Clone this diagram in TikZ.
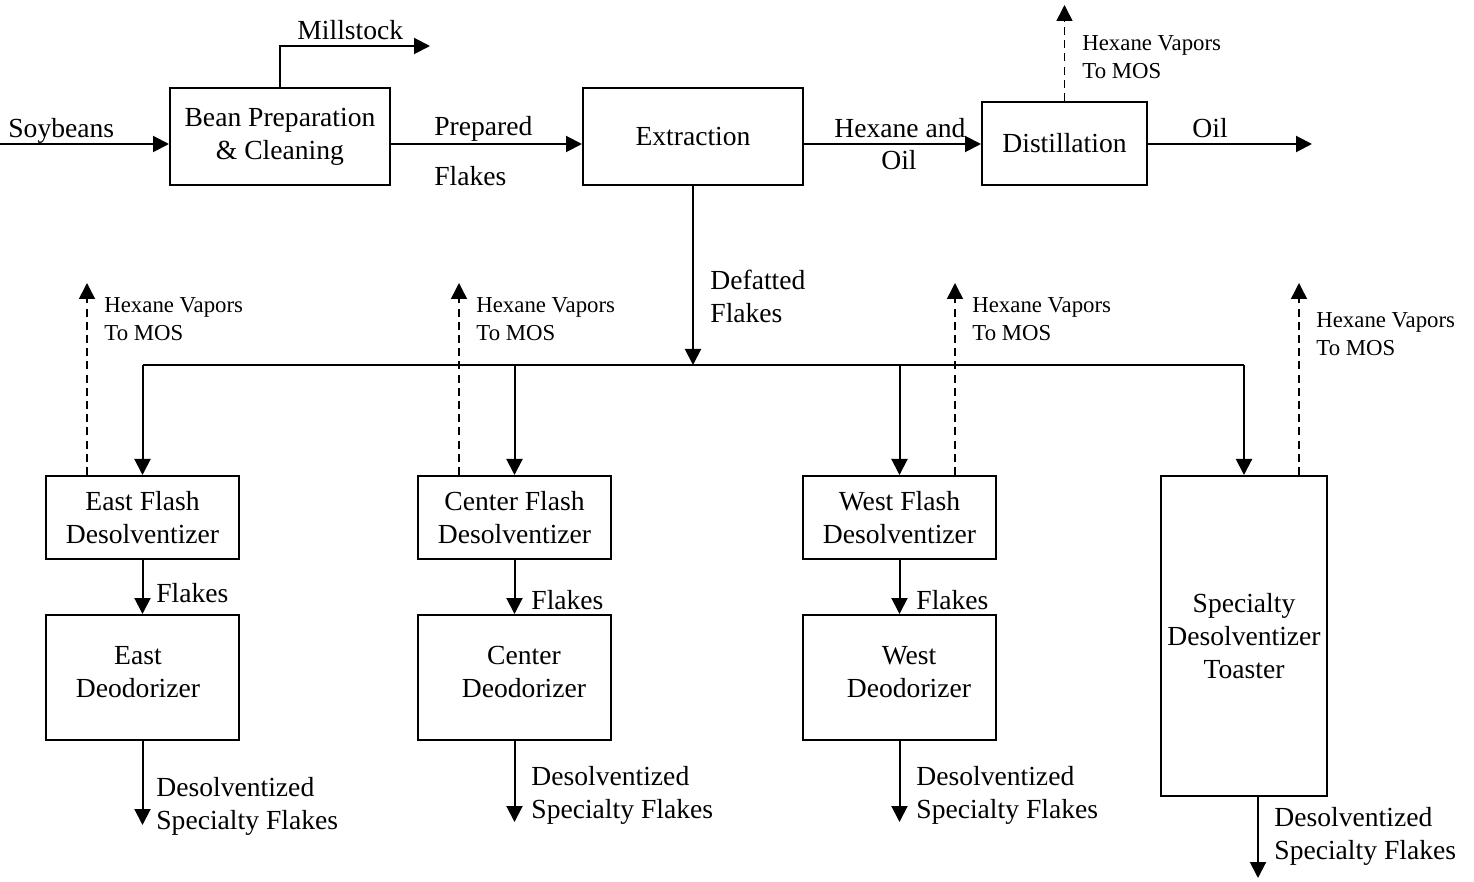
\documentclass[tikz,border=0pt]{standalone}
\usepackage{fontspec}
\setmainfont{Liberation Serif}
\usetikzlibrary{arrows.meta,calc}
\newcommand{\mainsz}{\fontsize{13.8}{16.5}\selectfont}
\newcommand{\smallsz}{\fontsize{11.4}{14}\selectfont}
\newcommand{\twol}[2]{\begin{tabular}[t]{@{}l@{}}#1\\#2\end{tabular}}
\begin{document}
\begin{tikzpicture}[x=0.5pt,y=-0.5pt,
  box/.style={draw,line width=1pt,inner sep=0pt,align=center,font=\mainsz},
  arr/.style={line width=1pt,-{Triangle[length=8pt,width=8pt]}},
  darr/.style={line width=0.75pt,dash pattern=on 4pt off 2.6pt,-{Triangle[length=8pt,width=8pt]}},
  lbl/.style={inner sep=0pt,anchor=base west,font=\mainsz},
  slbl/.style={inner sep=0pt,anchor=base west,font=\smallsz}]
\useasboundingbox (0,0) rectangle (1474,882);
% boxes
\node[box,minimum width=110pt,minimum height=48.5pt] (bean) at (280,136.5) {Bean Preparation\\\& Cleaning};
\node[box,minimum width=110pt,minimum height=48.5pt] (extr) at (693,136.5) {Extraction};
\node[box,minimum width=82.5pt,minimum height=41.5pt] (dist) at (1064.5,143.5) {Distillation};
\node[box,minimum width=96.5pt,minimum height=41.5pt] (ef) at (142.5,517.5) {East Flash\\Desolventizer};
\node[box,minimum width=96.5pt,minimum height=41.5pt] (cf) at (514.5,517.5) {Center Flash\\Desolventizer};
\node[box,minimum width=96.5pt,minimum height=41.5pt] (wf) at (899.5,517.5) {West Flash\\Desolventizer};
\node[box,minimum width=96.5pt,minimum height=62.5pt] (ed) at (142.5,677.5) {};
\node[box,minimum width=96.5pt,minimum height=62.5pt] (cd) at (514.5,677.5) {};
\node[box,minimum width=96.5pt,minimum height=62.5pt] (wd) at (899.5,677.5) {};
\node[box,minimum width=83pt,minimum height=160pt] (spec) at (1244,636) {Specialty\\Desolventizer\\Toaster};
\node[align=center,inner sep=0pt,font=\mainsz] (edt) at (138,672) {East\\Deodorizer};
\node[align=center,inner sep=0pt,font=\mainsz] (cdt) at (524,672) {Center\\Deodorizer};
\node[align=center,inner sep=0pt,font=\mainsz] (wdt) at (909,672) {West\\Deodorizer};
% coordinates
\coordinate (row) at (0,144);
\coordinate (soyin) at (0,144);
\coordinate (millend) at (430,46);
\coordinate (oilend) at (1312,144);
\coordinate (distv) at (1064.5,5);
\coordinate (split) at (693,365);
\coordinate (efv) at (87,283);
\coordinate (cfv) at (459,283);
\coordinate (wfv) at (955,283);
\coordinate (spv) at (1299,283);
\coordinate (edout) at (142.5,825);
\coordinate (cdout) at (514.5,822);
\coordinate (wdout) at (899.5,822);
\coordinate (sptop) at (1258,796);
\coordinate (spout) at (1258,878);
% top row connectors
\draw[arr] (soyin) -- (soyin -| bean.west);
\draw[arr] (bean.north) |- (millend);
\draw[arr] (bean.east |- row) -- (extr.west |- row);
\draw[arr] (extr.east |- row) -- (dist.west |- row);
\draw[arr] (dist.east |- row) -- (oilend);
\draw[darr] (dist.north) -- (distv);
\draw[arr] (extr.south) -- (split);
% header line and drops
\draw[line width=1pt] (ef.north |- split) -- (spec.north |- split);
\draw[arr] (ef.north |- split) -- (ef.north);
\draw[arr] (cf.north |- split) -- (cf.north);
\draw[arr] (wf.north |- split) -- (wf.north);
\draw[arr] (spec.north |- split) -- (spec.north);
% vapors
\draw[darr] (efv |- ef.north) -- (efv);
\draw[darr] (cfv |- cf.north) -- (cfv);
\draw[darr] (wfv |- wf.north) -- (wfv);
\draw[darr] (spv |- spec.north) -- (spv);
% flakes
\draw[arr] (ef.south) -- (ed.north);
\draw[arr] (cf.south) -- (cd.north);
\draw[arr] (wf.south) -- (wd.north);
% outputs
\draw[arr] (ed.south) -- (edout);
\draw[arr] (cd.south) -- (cdout);
\draw[arr] (wd.south) -- (wdout);
\draw[arr] (sptop) -- (spout);
% labels
\node[lbl] (l1) at (8,138) {Soybeans};
\node[lbl] (l2) at (297,40) {Millstock};
\node[lbl] (l3) at (434,136) {Prepared};
\node[lbl] (l4) at (434,186) {Flakes};
\node[lbl] (l5) at (834,138) {Hexane and};
\node[inner sep=0pt,anchor=base,font=\mainsz] (l6) at (899,170) {Oil};
\node[lbl] (l7) at (1192,138) {Oil};
\node[slbl] (l8) at (1082,51) {\twol{Hexane Vapors}{To MOS}};
\node[lbl] (l9) at (710,290) {\twol{Defatted}{Flakes}};
\node[slbl] (l10) at (104,313) {\twol{Hexane Vapors}{To MOS}};
\node[slbl] (l11) at (476,313) {\twol{Hexane Vapors}{To MOS}};
\node[slbl] (l12) at (972,313) {\twol{Hexane Vapors}{To MOS}};
\node[slbl] (l13) at (1316,328) {\twol{Hexane Vapors}{To MOS}};
\node[lbl] (l14) at (156,602) {Flakes};
\node[lbl] (l15) at (531,609) {Flakes};
\node[lbl] (l16) at (916,609) {Flakes};
\node[lbl] (l17) at (156,796) {\twol{Desolventized}{Specialty Flakes}};
\node[lbl] (l18) at (531,785) {\twol{Desolventized}{Specialty Flakes}};
\node[lbl] (l19) at (916,785) {\twol{Desolventized}{Specialty Flakes}};
\node[lbl] (l20) at (1274,826) {\twol{Desolventized}{Specialty Flakes}};
\end{tikzpicture}
\end{document}
